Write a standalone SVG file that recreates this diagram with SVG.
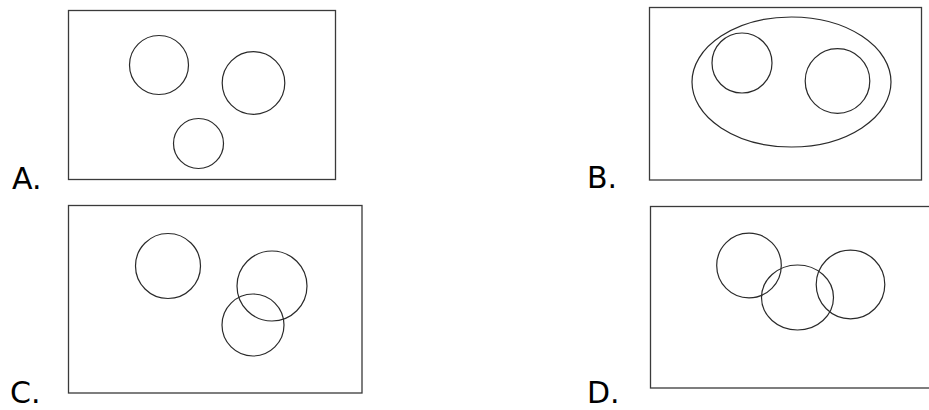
<svg xmlns="http://www.w3.org/2000/svg" width="929" height="410" viewBox="0 0 929 410">
<style>
.frame{fill:none;stroke:#3a3a3a;stroke-width:1.3}
.c{fill:none;stroke:#2a2a2a;stroke-width:1.2}
.lbl{font-family:"DejaVu Sans",sans-serif;font-size:30px;fill:#000}
</style>
<rect width="929" height="410" fill="#fff"/>
<g id="panelA">
<rect class="frame" x="68.5" y="10.5" width="267" height="169"/>
<circle class="c" cx="159" cy="65" r="29.5"/>
<circle class="c" cx="253.5" cy="83" r="31.3"/>
<circle class="c" cx="198.5" cy="143.5" r="25"/>
<text class="lbl" x="12" y="189">A.</text>
</g>
<g id="panelB">
<rect class="frame" x="649.5" y="7.5" width="272" height="172.5"/>
<ellipse class="c" cx="791.5" cy="82" rx="99.5" ry="65"/>
<circle class="c" cx="742" cy="63" r="30"/>
<circle class="c" cx="837.5" cy="81" r="32.3"/>
<text class="lbl" x="587" y="188">B.</text>
</g>
<g id="panelC">
<rect class="frame" x="68.5" y="205.5" width="293.5" height="187.5"/>
<circle class="c" cx="168" cy="266" r="32.5"/>
<circle class="c" cx="272" cy="286" r="35"/>
<circle class="c" cx="253" cy="325" r="31"/>
<text class="lbl" x="10" y="403">C.</text>
</g>
<g id="panelD">
<rect class="frame" x="650.5" y="206.5" width="290" height="181.5"/>
<circle class="c" cx="749" cy="265.5" r="32.3"/>
<ellipse class="c" cx="797.5" cy="297.5" rx="36" ry="32.5"/>
<circle class="c" cx="850.5" cy="284.5" r="34.3"/>
<text class="lbl" x="587" y="403">D.</text>
</g>
</svg>
